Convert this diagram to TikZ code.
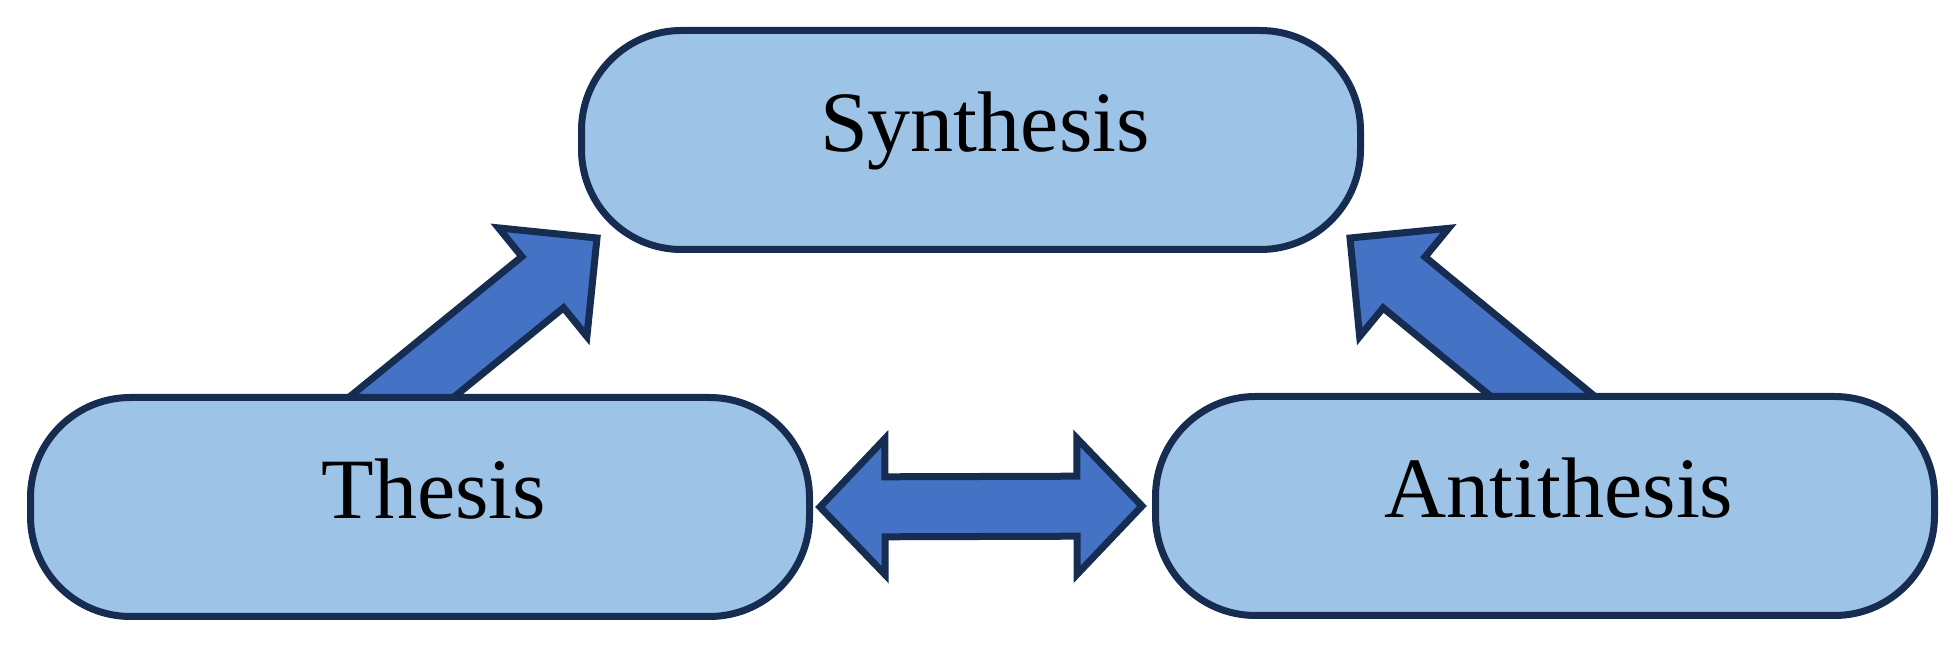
\documentclass[tikz,border=0pt]{standalone}
\usepackage{fontspec}
\setmainfont{Liberation Serif}
\usetikzlibrary{calc,backgrounds}

\definecolor{boxfill}{HTML}{9DC3E6}
\definecolor{boxline}{HTML}{172C51}
\definecolor{arrowfill}{HTML}{4472C4}

% fat arrow with one head: #1 base, #2 tip
\newcommand{\onearrow}[2]{%
  \path (#2) coordinate (tip) ($(#2)!35pt!(#1)$) coordinate (back);
  \draw[fat] ($(#1)!16.5pt!90:(#2)$) -- ($(back)!16.5pt!90:(tip)$)
    -- ($(back)!35pt!90:(tip)$) -- (tip) -- ($(back)!35pt!-90:(tip)$)
    -- ($(back)!16.5pt!-90:(tip)$) -- ($(#1)!16.5pt!-90:(#2)$) -- cycle;
}
% fat arrow with two heads: #1 and #2 tips
\newcommand{\twoarrow}[2]{%
  \path ($(#1)!32.5pt!(#2)$) coordinate (back1) ($(#2)!32.5pt!(#1)$) coordinate (back2);
  \draw[fat] (#1) -- ($(back1)!34pt!90:(#2)$) -- ($(back1)!15pt!90:(#2)$)
    -- ($(back2)!15pt!-90:(#1)$) -- ($(back2)!34pt!-90:(#1)$) -- (#2)
    -- ($(back2)!34pt!90:(#1)$) -- ($(back2)!15pt!90:(#1)$)
    -- ($(back1)!15pt!-90:(#2)$) -- ($(back1)!34pt!-90:(#2)$) -- cycle;
}

\begin{document}
\begin{tikzpicture} [
    x=0.5pt, y=-0.5pt,
    block/.style = { rectangle, rounded corners=50pt, draw=boxline, fill=boxfill,
                     line width=3.5pt, minimum width=389.5pt, minimum height=109.5pt,
                     font=\fontsize{43pt}{50pt}\selectfont,
                     text height=29pt, text depth=17pt,
                     execute at begin node=\hspace*{14pt} },
    fat/.style   = { draw=boxline, fill=arrowfill, line width=3.5pt, line join=miter },
  ]
  \useasboundingbox (0,0) rectangle (1960,651);

  % Define nodes
  \node[block] (synthesis)  at (971,140)  {Synthesis};
  \node[block] (thesis)     at (420,507)  {Thesis};
  \node[block] (antithesis) at (1545,506) {Antithesis};

  % arrow ends
  \coordinate (thesis out)  at ($(thesis.north)+(-65,41)$);
  \coordinate (synth left)  at ($(synthesis.south west)+(19,-15)$);
  \coordinate (anti out)    at ($(antithesis.north)+(46,43)$);
  \coordinate (synth right) at ($(synthesis.south east)+(-14,-15)$);
  \coordinate (thesis side) at ($(thesis.east)+(7,0)$);
  \coordinate (anti side)   at ($(antithesis.west)+(-10,0)$);

  % connect the nodes
  \begin{scope}[on background layer]
    \onearrow{thesis out}{synth left}
    \onearrow{anti out}{synth right}
    \twoarrow{thesis side}{anti side}
  \end{scope}
\end{tikzpicture}
\end{document}
